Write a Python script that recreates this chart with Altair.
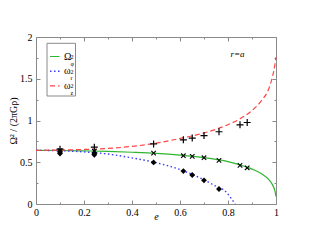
import altair as alt
import pandas as pd

# ---- curves ----
e_phi = [0, 0.1, 0.2, 0.3, 0.4, 0.5, 0.6, 0.7, 0.8, 0.85, 0.9, 0.94, 0.97, 0.985, 0.995, 1.0]
omega_phi = [0.643, 0.641, 0.636, 0.63, 0.62, 0.607, 0.586, 0.556, 0.508, 0.468, 0.418, 0.362, 0.292, 0.232, 0.162, 0.09]

e_r = [0, 0.1, 0.2, 0.3, 0.4, 0.5, 0.6, 0.65, 0.7, 0.75, 0.79, 0.81, 0.83]
omega_r = [0.643, 0.638, 0.624, 0.598, 0.552, 0.495, 0.412, 0.355, 0.29, 0.212, 0.15, 0.08, 0.0]

e_z = [0, 0.1, 0.2, 0.3, 0.4, 0.5, 0.6, 0.7, 0.8, 0.85, 0.9, 0.94, 0.97, 0.985, 0.995, 1.0]
omega_z = [0.643, 0.646, 0.653, 0.665, 0.69, 0.728, 0.785, 0.85, 0.95, 1.02, 1.12, 1.24, 1.38, 1.52, 1.66, 1.76]

# ---- simulation points ----
e_plus = [0.1, 0.243, 0.49, 0.614, 0.651, 0.70, 0.7625, 0.85, 0.88]
v_plus = [0.657, 0.68, 0.72, 0.769, 0.789, 0.82, 0.865, 0.948, 0.976]

e_cross = [0.1, 0.243, 0.49, 0.614, 0.651, 0.70, 0.7625, 0.85, 0.88]
v_cross = [0.64, 0.632, 0.61, 0.578, 0.57, 0.554, 0.522, 0.462, 0.434]

e_diam = [0.1, 0.1, 0.243, 0.243, 0.49, 0.614, 0.651, 0.70, 0.7625]
v_diam = [0.628, 0.605, 0.61, 0.59, 0.498, 0.394, 0.347, 0.283, 0.18]

x_ticks = [round(0.1 * i, 1) for i in range(11)]
y_ticks = [0.25 * i for i in range(9)]

legend_main = ["Ω", "ω", "ω"]
legend_supsub = ["2\nφ", "2\nr", "2\nz"]

GREEN = "#2fb52f"
BLUE = "#3b3bff"
RED = "#ff4545"
GRAY = "#8a8a8a"
FONT = "Liberation Serif"

W, H = 240, 167

xs = alt.Scale(domain=[0, 1], nice=False, zero=False)
ys = alt.Scale(domain=[0, 2], nice=False, zero=False)

x_major = "abs(datum.value*5 - round(datum.value*5)) < 0.001"
y_major = "abs(datum.value*2 - round(datum.value*2)) < 0.001"

common = dict(domain=False, grid=False, tickColor=GRAY, tickWidth=1,
              labelFlush=False, labelOverlap=False, labelBound=False,
              labelFont=FONT, labelFontSize=10, labelColor="black")

x_axis_main = alt.Axis(
    orient="bottom", values=x_ticks, format=".1~f",
    labelExpr=f"{x_major} ? datum.label : ''",
    tickSize=alt.ExprRef(expr=f"{x_major} ? -4 : -2"),
    labelPadding=7,
    title="e", titleX=W / 2, titleY=15.5, titleBaseline="alphabetic",
    titleAlign="center", titleFont=FONT, titleFontSize=10,
    titleFontStyle="italic", titleFontWeight="normal", titleColor="black",
    **common)
y_axis_main = alt.Axis(
    orient="left", values=y_ticks, format=".1~f",
    labelExpr=f"{y_major} ? datum.label : ''",
    tickSize=alt.ExprRef(expr=f"{y_major} ? -4 : -2"),
    labelPadding=8,
    title="Ω² / (2πGρ)", titleX=-23, titleY=H / 2, titleAngle=270,
    titleAlign="center", titleBaseline="middle", titleFont=FONT,
    titleFontSize=10, titleFontWeight="normal", titleColor="black",
    **common)
x_axis_top = alt.Axis(
    orient="top", values=x_ticks, labels=False, title=None,
    tickSize=alt.ExprRef(expr=f"{x_major} ? -4 : -2"),
    domain=False, grid=False, tickColor=GRAY)
y_axis_right = alt.Axis(
    orient="right", values=y_ticks, labels=False, title=None,
    tickSize=alt.ExprRef(expr=f"{y_major} ? -4 : -2"),
    domain=False, grid=False, tickColor=GRAY)

df_phi = pd.DataFrame({"e": e_phi, "v": omega_phi})
df_r = pd.DataFrame({"e": e_r, "v": omega_r})
df_z = pd.DataFrame({"e": e_z, "v": omega_z})
df_plus = pd.DataFrame({"e": e_plus, "v": v_plus})
df_cross = pd.DataFrame({"e": e_cross, "v": v_cross})
df_diam = pd.DataFrame({"e": e_diam, "v": v_diam})

line_phi = alt.Chart(df_phi).mark_line(color=GREEN, strokeWidth=1.2, interpolate="monotone").encode(
    x=alt.X("e:Q", scale=xs, axis=x_axis_main),
    y=alt.Y("v:Q", scale=ys, axis=y_axis_main))
line_r = alt.Chart(df_r).mark_line(color=BLUE, strokeWidth=1.4, strokeDash=[1.5, 2.5],
                                   interpolate="monotone").encode(
    x=alt.X("e:Q", scale=xs, axis=None),
    y=alt.Y("v:Q", scale=ys, axis=None))
line_z = alt.Chart(df_z).mark_line(color=RED, strokeWidth=1.2, strokeDash=[5, 3],
                                   interpolate="monotone").encode(
    x=alt.X("e:Q", scale=xs, axis=x_axis_top),
    y=alt.Y("v:Q", scale=ys, axis=y_axis_right))

plus_shape = "M-1,0L1,0M0,-1L0,1"
cross_shape = "M-1,-1L1,1M-1,1L1,-1"

pts_plus = alt.Chart(df_plus).mark_point(shape=plus_shape, size=49, color="black",
                                         strokeWidth=1.2, filled=False, opacity=1).encode(
    x=alt.X("e:Q", scale=xs, axis=None), y=alt.Y("v:Q", scale=ys, axis=None))
pts_cross = alt.Chart(df_cross).mark_point(shape=cross_shape, size=20, color="black",
                                           strokeWidth=1.1, filled=False, opacity=1).encode(
    x=alt.X("e:Q", scale=xs, axis=None), y=alt.Y("v:Q", scale=ys, axis=None))
pts_diam = alt.Chart(df_diam).mark_point(shape="diamond", size=34, color="black",
                                         filled=True, opacity=1).encode(
    x=alt.X("e:Q", scale=xs, axis=None), y=alt.Y("v:Q", scale=ys, axis=None))

one = alt.Data(values=[{}])

# ---- legend (layout in pixels of the plot area) ----
LEG_X0, LEG_X1, LEG_Y0, LEG_Y1 = 11, 39.5, 6.3, 59
row_y = [19.5 + 14.7 * i for i in range(3)]
row_style = [(GREEN, [1, 0], 1.2), (BLUE, [1.5, 2.5], 1.4), (RED, [5, 3], 1.2)]

legend_layers = [alt.Chart(one).mark_rect(fill="white", stroke=GRAY, strokeWidth=1).encode(
    x=alt.value(LEG_X0), x2=alt.value(LEG_X1), y=alt.value(LEG_Y0), y2=alt.value(LEG_Y1))]
for i in range(3):
    col, dash, sw = row_style[i]
    legend_layers.append(alt.Chart(one).mark_rule(color=col, strokeDash=dash, strokeWidth=sw).encode(
        x=alt.value(14), x2=alt.value(23.5), y=alt.value(row_y[i])))
    legend_layers.append(alt.Chart(one).mark_text(text=legend_main[i], font=FONT, fontSize=10,
                                                  align="left", baseline="middle", color="black").encode(
        x=alt.value(28), y=alt.value(row_y[i])))
    legend_layers.append(alt.Chart(one).mark_text(text=legend_supsub[i], lineBreak="\n", lineHeight=6.5,
                                                  font=FONT, fontSize=6, align="left",
                                                  baseline="middle", color="black").encode(
        x=alt.value(34.5), y=alt.value(row_y[i] + 0.5)))

label_ra = alt.Chart(one).mark_text(text="r=a", font=FONT, fontSize=9, fontStyle="italic",
                                    align="center", baseline="middle", color="black").encode(
    x=alt.value(201.5), y=alt.value(16.7))

chart = alt.layer(line_phi, line_r, line_z, pts_cross, pts_plus, pts_diam,
                  *legend_layers, label_ra).resolve_axis(
    x="independent", y="independent"
).properties(
    width=W, height=H,
    autosize=alt.AutoSizeParams(type="none"),
    padding={"left": 28, "top": 29, "right": 27, "bottom": 29},
).configure_view(stroke=GRAY, strokeWidth=1)

chart.save("out.html", embed_options={"renderer": "svg", "actions": False})
